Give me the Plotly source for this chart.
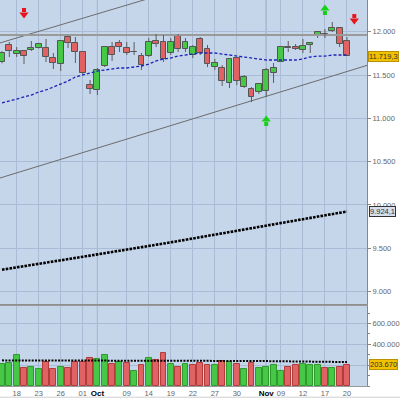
import plotly.graph_objects as go

# ---------------- data ----------------
opens  = [11650, 11846, 11743, 11777, 11789, 11812, 11812, 11696, 11627, 11939,
          11870, 11766, 11385, 11327, 11604, 11823, 11870, 11812, 11766, 11719,
          11719, 11893, 11881, 11754, 11950, 11800, 11731, 11916, 11800, 11592,
          11581, 11408, 11696, 11361, 11338, 11304, 11315, 11523, 11650, 11818,
          11823, 11789, 11846, 11950, 11973, 12008, 12043, 11893]
highs  = [11775, 11881, 11823, 11789, 11893, 11870, 11916, 11754, 11904, 11950,
          11939, 11777, 11442, 11581, 11835, 11881, 11904, 11881, 11881, 11754,
          11927, 11973, 11962, 11927, 11973, 11927, 11846, 11939, 11846, 11685,
          11615, 11696, 11708, 11500, 11361, 11408, 11581, 11639, 11823, 11893,
          11858, 11916, 11881, 12008, 12031, 12112, 12043, 11939]
lows   = [11635, 11708, 11708, 11627, 11777, 11806, 11650, 11569, 11546, 11812,
          11639, 11512, 11281, 11269, 11592, 11662, 11766, 11731, 11731, 11558,
          11708, 11823, 11650, 11731, 11766, 11766, 11696, 11731, 11592, 11558,
          11373, 11350, 11385, 11350, 11188, 11281, 11246, 11408, 11650, 11766,
          11789, 11754, 11754, 11927, 11927, 11997, 11823, 11719.3]
closes = [11754, 11777, 11777, 11719, 11812, 11858, 11708, 11639, 11893, 11870,
          11766, 11523, 11338, 11558, 11823, 11731, 11823, 11754, 11766, 11615,
          11881, 11858, 11685, 11881, 11800, 11881, 11823, 11754, 11627, 11639,
          11431, 11685, 11431, 11477, 11246, 11396, 11558, 11581, 11823, 11808,
          11800, 11835, 11870, 11997, 11973, 12043, 11858, 11719.3]
ma_short = [11177, 11200, 11223, 11246, 11269, 11304, 11327, 11361, 11396, 11431,
            11477, 11500, 11523, 11546, 11558, 11569, 11581, 11581, 11592, 11604,
            11627, 11662, 11685, 11696, 11719, 11731, 11742, 11754, 11754, 11754,
            11742, 11731, 11719, 11708, 11696, 11685, 11673, 11673, 11673, 11673,
            11673, 11685, 11708, 11719, 11719, 11731, 11731, 11731]
ma_long = [9252, 9265, 9279, 9292, 9306, 9320, 9333, 9347, 9361, 9374,
           9388, 9401, 9415, 9429, 9442, 9456, 9470, 9483, 9497, 9511,
           9525, 9540, 9554, 9568, 9583, 9597, 9612, 9626, 9640, 9655,
           9669, 9684, 9698, 9713, 9727, 9742, 9756, 9771, 9786, 9801,
           9816, 9832, 9847, 9863, 9878, 9893, 9909, 9924.1]
volumes = [213000, 219000, 293000, 171000, 187000, 159000, 229000, 159000, 187000, 175000,
           229000, 229000, 271000, 262000, 293000, 213000, 229000, 219000, 142000, 197000,
           271000, 245000, 319000, 213000, 187000, 213000, 204000, 219000, 197000, 204000,
           236000, 229000, 213000, 159000, 219000, 175000, 187000, 197000, 142000, 187000,
           197000, 213000, 204000, 197000, 175000, 175000, 187000, 203670]
vol_ma = [246000, 246000, 247000, 246000, 246000, 245000, 245000, 245000, 246000, 246000,
          246000, 246000, 247000, 247000, 247000, 247000, 246000, 246000, 245000, 245000,
          246000, 246000, 246000, 246000, 246000, 245000, 245000, 245000, 244000, 244000,
          244000, 243000, 243000, 242000, 241000, 240000, 239000, 238000, 237000, 236000,
          235000, 234000, 233000, 232000, 231000, 231000, 230000, 230000]

tick_bars   = [2, 5, 8, 11, 13, 17, 20, 23, 26, 29, 32, 36, 38, 41, 44, 47]
tick_labels = ["18", "23", "26", "01", "Oct", "09", "14", "19", "22", "27", "30",
               "Nov", "09", "12", "17", "20"]
month_labels = ["Oct", "Nov"]

upper_channel_bar = [-1, 20]
upper_channel_val = [11852, 12383]
lower_channel_bar = [-1, 50]
lower_channel_val = [10292, 11618]
resistance_bar = [-1, 50]
resistance_val = [11962, 11962]

# signal arrows: bar index and price of the arrow tip
sell_bar = [3, 48]
sell_val = [12170, 12100]
buy_bar = [44, 36]
buy_val = [12297, 11015]

price_ticks = [9000, 9500, 10000, 10500, 11000, 11500, 12000]
vol_ticks = [200000, 400000, 600000]
vol_tick_labels = ["", "400.000", "600.000"]

# ---------------- helpers ----------------
def eu(v, dec=0):
    s = f"{v:,.{dec}f}"
    return s.replace(",", "#").replace(".", ",").replace("#", ".")

n = len(closes)
idx = list(range(n))

GREEN = "#46c846"
RED = "#e06262"
BG = "#c6d6ea"
GRID = "#a9bcd5"

PRICE_RANGE = [8856, 12366]
PRICE_PANE_PX = 304
px = (PRICE_RANGE[1] - PRICE_RANGE[0]) / PRICE_PANE_PX  # price units per pixel

body_base, body_h, body_col = [], [], []
for o, c in zip(opens, closes):
    lo, hi = min(o, c), max(o, c)
    h = hi - lo
    if h < 4:
        lo -= 2
        h = 4
    body_base.append(lo)
    body_h.append(h)
    body_col.append(GREEN if c > o else (RED if c < o else "#222222"))

wx, wy = [], []
for i in idx:
    top = max(opens[i], closes[i])
    bot = min(opens[i], closes[i])
    wx += [i, i, None, i, i, None]
    wy += [highs[i], top, None, bot, lows[i], None]

vol_col = []
for i in idx:
    if i == 0 or closes[i] >= closes[i - 1]:
        vol_col.append(GREEN)
    else:
        vol_col.append(RED)

fig = go.Figure()

fig.add_trace(go.Scatter(x=upper_channel_bar, y=upper_channel_val, mode="lines",
                         line=dict(color="#6b6b6b", width=1), xaxis="x", yaxis="y"))
fig.add_trace(go.Scatter(x=lower_channel_bar, y=lower_channel_val, mode="lines",
                         line=dict(color="#6b6b6b", width=1), xaxis="x", yaxis="y"))
fig.add_trace(go.Scatter(x=resistance_bar, y=resistance_val, mode="lines",
                         line=dict(color="#9a9a9a", width=2), xaxis="x", yaxis="y"))

fig.add_trace(go.Scatter(x=idx, y=ma_long, mode="lines",
                         line=dict(color="#000000", width=2.6, dash="2.6px,1.2px"),
                         xaxis="x", yaxis="y"))
fig.add_trace(go.Scatter(x=wx, y=wy, mode="lines", line=dict(color="#5c5c5c", width=1),
                         xaxis="x", yaxis="y", connectgaps=False))
fig.add_trace(go.Bar(x=idx, y=body_h, base=body_base, width=0.8,
                     marker=dict(color=body_col, line=dict(color="#555555", width=1)),
                     xaxis="x", yaxis="y"))
fig.add_trace(go.Scatter(x=idx, y=ma_short, mode="lines",
                         line=dict(color="#1c22b8", width=1.3, dash="3px,2px"),
                         xaxis="x", yaxis="y"))

# signal arrows (head + shaft markers)
for bars, vals, col, sym, sgn in [(sell_bar, sell_val, "#e8141c", "triangle-down", 1),
                                  (buy_bar, buy_val, "#18d018", "triangle-up", -1)]:
    fig.add_trace(go.Scatter(x=bars, y=[v + sgn * 2.5 * px for v in vals], mode="markers",
                             marker=dict(symbol=sym, size=8, color=col, line=dict(width=0)),
                             xaxis="x", yaxis="y", cliponaxis=False))
    fig.add_trace(go.Scatter(x=bars, y=[v + sgn * 7 * px for v in vals], mode="markers",
                             marker=dict(symbol="square", size=4, color=col, line=dict(width=0)),
                             xaxis="x", yaxis="y", cliponaxis=False))

fig.add_trace(go.Bar(x=idx, y=volumes, width=0.8,
                     marker=dict(color=vol_col,
                                 line=dict(color=["#2e9a2e" if c == GREEN else "#b03c3c" for c in vol_col],
                                           width=1)),
                     xaxis="x2", yaxis="y2"))
fig.add_trace(go.Scatter(x=idx, y=vol_ma, mode="lines",
                         line=dict(color="#000000", width=2, dash="2px,1.3px"),
                         xaxis="x2", yaxis="y2"))

month_pos = [tick_bars[tick_labels.index(m)] for m in month_labels]
shapes = []
for mp in month_pos:
    shapes.append(dict(type="line", xref="x", yref="paper", x0=mp, x1=mp, y0=0, y1=1,
                       line=dict(color="#7f92ad", width=1), layer="below"))
shapes.append(dict(type="line", xref="paper", yref="paper", x0=0, x1=1.09, y0=-0.029, y1=-0.029,
                   line=dict(color="#cfcfcf", width=1)))

ticktext = []
for t in tick_labels:
    if t in month_labels:
        ticktext.append(f'<span style="color:#000;font-size:8px"><b>{t}</b></span>')
    else:
        ticktext.append(t)

annotations = []
annotations.append(dict(x=1, y=closes[-1], xref="paper", yref="y", text=eu(closes[-1], 1),
                        showarrow=False, xanchor="left", xshift=1,
                        bgcolor="#f2c200", bordercolor="#b89200", borderwidth=1, borderpad=0,
                        font=dict(size=7.5, color="#333", family="Liberation Sans")))
annotations.append(dict(x=1, y=ma_long[-1], xref="paper", yref="y", text=eu(ma_long[-1], 1),
                        showarrow=False, xanchor="left", xshift=2,
                        bgcolor="#d6dfeb", bordercolor="#333", borderwidth=1, borderpad=0,
                        font=dict(size=7.5, color="#333", family="Liberation Sans")))
annotations.append(dict(x=1, y=volumes[-1], xref="paper", yref="y2", text=eu(volumes[-1]),
                        showarrow=False, xanchor="left", xshift=2,
                        bgcolor="#f2c200", bordercolor="#b89200", borderwidth=1, borderpad=0,
                        font=dict(size=7.5, color="#333", family="Liberation Sans")))

tickfont = dict(size=7.5, color="#666", family="Liberation Sans")
xr = [-0.27, 49.73]

fig.update_layout(
    width=400, height=399,
    margin=dict(l=0, r=30, t=0, b=13),
    paper_bgcolor="#ffffff",
    plot_bgcolor=BG,
    showlegend=False,
    bargap=0,
    shapes=shapes,
    annotations=annotations,
    xaxis=dict(domain=[0, 1], anchor="y", range=xr, tickvals=tick_bars,
               showticklabels=False, ticks="", showgrid=True, gridcolor=GRID, gridwidth=1,
               zeroline=False, showline=True, linecolor="#8e8e8e", linewidth=2),
    xaxis2=dict(domain=[0, 1], anchor="y2", range=xr, tickvals=tick_bars, ticktext=ticktext,
                ticks="", showgrid=True, gridcolor=GRID, gridwidth=1, zeroline=False,
                showline=True, mirror=True, linecolor="#999999", linewidth=1,
                tickfont=tickfont),
    yaxis=dict(domain=[0.2124, 1], anchor="x", side="right", range=PRICE_RANGE,
               tickvals=price_ticks, ticktext=[eu(v) for v in price_ticks],
               ticks="outside", ticklen=3, tickcolor="#888", showgrid=True, gridcolor=GRID,
               zeroline=False, showline=True, linecolor="#888", linewidth=1,
               tickfont=tickfont),
    yaxis2=dict(domain=[0, 0.2073], anchor="x2", side="right", range=[0, 768000],
                tickvals=vol_ticks, ticktext=vol_tick_labels,
                ticks="outside", ticklen=3, tickcolor="#888", showgrid=True, gridcolor=GRID,
                zeroline=False, showline=True, linecolor="#888", linewidth=1,
                minor=dict(dtick=100000, ticks="outside", ticklen=2, tickcolor="#888", showgrid=False),
                tickfont=tickfont),
)

fig.write_html("out.html", config={"displayModeBar": False},
               post_script="document.body.style.margin='0';document.body.style.padding='0';")
